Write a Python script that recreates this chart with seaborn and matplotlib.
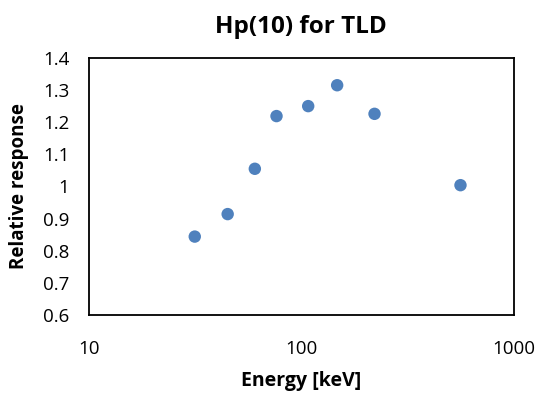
import pandas as pd
import matplotlib.pyplot as plt
import seaborn as sns

# Values
energy_kev = [31.5, 45, 60.4, 76.4, 107.7, 147.4, 221, 561]
relative_response = [0.844, 0.914, 1.055, 1.219, 1.250, 1.315, 1.226, 1.004]
x_ticks = [10, 100, 1000]
y_ticks = [0.6, 0.7, 0.8, 0.9, 1.0, 1.1, 1.2, 1.3, 1.4]
y_tick_labels = ["0.6", "0.7", "0.8", "0.9", "1", "1.1", "1.2", "1.3", "1.4"]

sns.set_theme(style="white")
plt.rcParams['font.family'] = ['Open Sans', 'DejaVu Sans']
plt.rcParams['text.color'] = 'black'
plt.rcParams['axes.labelcolor'] = 'black'

df = pd.DataFrame({'Energy': energy_kev, 'Response': relative_response})

fig = plt.figure(figsize=(5.42, 3.94), dpi=100)
ax = fig.add_axes([0.164, 0.2005, 0.784, 0.6525])

sns.scatterplot(data=df, x='Energy', y='Response', ax=ax,
                color='#4F81BD', s=80, edgecolor='none', zorder=3)

ax.set_xscale('log')
ax.set_xlim(10, 1000)
ax.set_ylim(0.6, 1.4)
ax.set_xticks(x_ticks)
ax.set_xticklabels([str(t) for t in x_ticks])
ax.minorticks_off()
ax.set_yticks(y_ticks)
ax.set_yticklabels(y_tick_labels)
ax.tick_params(axis='both', length=0, labelsize=13.5, colors='black')
ax.tick_params(axis='y', pad=14)
ax.tick_params(axis='x', pad=18)

for spine in ax.spines.values():
    spine.set_visible(True)
    spine.set_color('black')
    spine.set_linewidth(1.3)

ax.set_title("Hp(10) for TLD", fontsize=17.5, fontweight='bold', pad=18,
             color='black')
ax.set_xlabel("Energy [keV]", fontsize=14, fontweight='bold', labelpad=9)
ax.set_ylabel("Relative response", fontsize=13.5, fontweight='bold', labelpad=10)

fig.savefig("out.png", dpi=100)
plt.close(fig)
